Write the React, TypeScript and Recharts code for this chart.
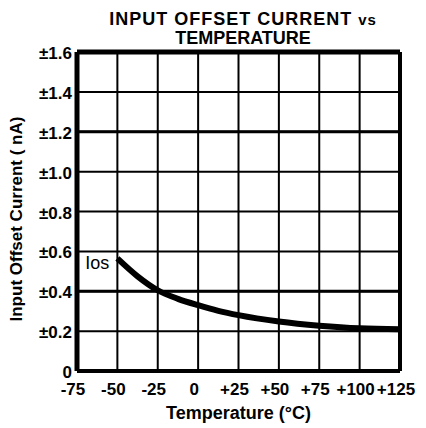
import { CartesianGrid, Line, LineChart, ReferenceDot, ReferenceLine, XAxis, YAxis } from 'recharts';

// Temperature (°C) and |Ios| (nA)
const temps = [-50, -37.5, -25, -12.5, 0, 12.5, 25, 50, 75, 100, 125];
const iosValues = [0.565, 0.475, 0.405, 0.362, 0.33, 0.302, 0.28, 0.248, 0.227, 0.214, 0.21];

const xTicks = [-75, -50, -25, 0, 25, 50, 75, 100, 125];
const yTicks = [0, 0.2, 0.4, 0.6, 0.8, 1.0, 1.2, 1.4, 1.6];
const heavyGrid = [0.4, 1.2];

const data = temps.map((t, i) => ({ temp: t, ios: iosValues[i] }));

const font = '"Liberation Sans", Arial, sans-serif';
const tickStyle = { fill: '#000', fontSize: 17, fontWeight: 'bold', fontFamily: font };

export default function App() {
  return (
    <div style={{ position: 'absolute', left: 0, top: 0, width: 426, height: 428, background: '#fff', fontFamily: font }}>
      <div style={{ position: 'absolute', top: 10, left: 243, transform: 'translateX(-50%)', whiteSpace: 'nowrap', fontSize: 18, fontWeight: 'bold', lineHeight: 1, letterSpacing: 1 }}>
        INPUT OFFSET CURRENT <span style={{ fontSize: 15 }}>vs</span>
      </div>
      <div style={{ position: 'absolute', top: 29, left: 243, transform: 'translateX(-50%)', whiteSpace: 'nowrap', fontSize: 18, fontWeight: 'bold', lineHeight: 1 }}>
        TEMPERATURE
      </div>
      <LineChart width={426} height={428} data={data} margin={{ top: 52, right: 26, left: 20, bottom: 9 }}>
        <CartesianGrid stroke="#000" strokeWidth={2} horizontalValues={yTicks} verticalValues={xTicks} />
        <XAxis
          dataKey="temp"
          type="number"
          domain={[-75, 125]}
          ticks={xTicks}
          height={48}
          axisLine={false}
          tickLine={false}
          tickSize={0}
          tickMargin={12}
          interval={0}
          tick={{ ...tickStyle, dx: -4 }}
          tickFormatter={(v: number) => (v > 0 ? `+${v}` : String(v))}
          label={{ value: 'Temperature (°C)', position: 'insideBottom', offset: 0, fill: '#000', fontSize: 18, fontWeight: 'bold' }}
        />
        <YAxis
          type="number"
          domain={[0, 1.6]}
          ticks={yTicks}
          width={57}
          axisLine={false}
          tickLine={false}
          tickSize={0}
          tickMargin={5}
          interval={0}
          tick={{ ...tickStyle, dy: 1 }}
          tickFormatter={(v: number) => (v === 0 ? '0' : `±${v.toFixed(1)}`)}
          label={{ value: 'Input Offset Current ( nA)', angle: -90, position: 'insideLeft', dx: -9, dy: 110, fill: '#000', fontSize: 17, fontWeight: 'bold' }}
        />
        {heavyGrid.map((y) => (
          <ReferenceLine key={y} y={y} stroke="#000" strokeWidth={3} />
        ))}
        <ReferenceLine x={-75} stroke="#000" strokeWidth={5} />
        <ReferenceLine x={125} stroke="#000" strokeWidth={4} />
        <ReferenceLine y={0} stroke="#000" strokeWidth={4} />
        <ReferenceLine y={1.6} stroke="#000" strokeWidth={5} />
        <Line type="monotone" dataKey="ios" stroke="#000" strokeWidth={6} dot={false} isAnimationActive={false} />
        <ReferenceDot
          x={-50}
          y={0.565}
          r={0}
          fill="none"
          stroke="none"
          label={{ value: 'Ios', position: 'left', offset: 8, dy: 4, fill: '#000', fontSize: 18, fontFamily: font }}
        />
      </LineChart>
    </div>
  );
}
